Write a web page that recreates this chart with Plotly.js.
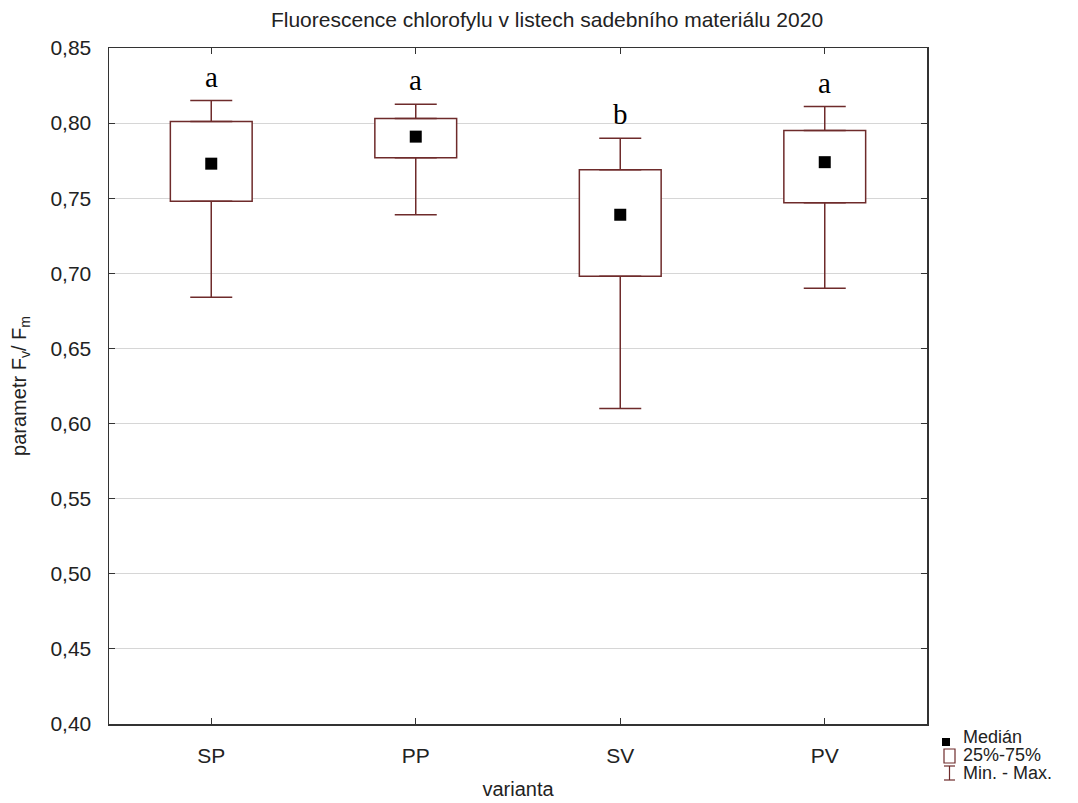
<!DOCTYPE html>
<html>
<head>
<meta charset="utf-8">
<script src="https://cdn.plot.ly/plotly-3.0.1.min.js"></script>
<style>
  html, body { margin: 0; padding: 0; background: #ffffff; }
  #chart { width: 1078px; height: 803px; }
</style>
</head>
<body>
<div id="chart"></div>
<script>
// ---- data ----
const categories   = ['SP', 'PP', 'SV', 'PV'];
const minValues    = [0.684, 0.739, 0.610, 0.690];
const q1Values     = [0.748, 0.777, 0.698, 0.747];
const medianValues = [0.773, 0.791, 0.739, 0.774];
const q3Values     = [0.801, 0.803, 0.769, 0.795];
const maxValues    = [0.815, 0.8125, 0.790, 0.811];
const groupLetters = ['a', 'a', 'b', 'a'];
const legendLabels = ['Medián', '25%-75%', 'Min. - Max.'];

const boxColor = '#6e2b2b';
const axisColor = '#333333';
const sans = 'Liberation Sans, Arial, sans-serif';
const serif = 'Liberation Serif, Times New Roman, serif';

// ---- traces ----
const boxTrace = {
  type: 'bar',
  x: categories,
  base: q1Values,
  y: q3Values.map((q3, i) => q3 - q1Values[i]),
  width: 0.4,
  marker: { color: '#ffffff', line: { color: boxColor, width: 1.5 } },
  hoverinfo: 'skip',
  showlegend: false
};

const upperWhisker = {
  type: 'scatter',
  mode: 'markers',
  x: categories,
  y: q3Values,
  marker: { size: 1, color: 'rgba(0,0,0,0)' },
  error_y: {
    type: 'data', symmetric: false,
    array: maxValues.map((mx, i) => mx - q3Values[i]),
    arrayminus: q3Values.map(() => 0),
    color: boxColor, thickness: 1.5, width: 21
  },
  hoverinfo: 'skip',
  showlegend: false
};

const lowerWhisker = {
  type: 'scatter',
  mode: 'markers',
  x: categories,
  y: q1Values,
  marker: { size: 1, color: 'rgba(0,0,0,0)' },
  error_y: {
    type: 'data', symmetric: false,
    array: q1Values.map(() => 0),
    arrayminus: q1Values.map((q1, i) => q1 - minValues[i]),
    color: boxColor, thickness: 1.5, width: 21
  },
  hoverinfo: 'skip',
  showlegend: false
};

const medianTrace = {
  type: 'scatter',
  mode: 'markers',
  x: categories,
  y: medianValues,
  marker: { symbol: 'square', size: 12, color: '#000000' },
  showlegend: false
};

// ---- layout geometry helpers (pixel -> paper) for the hand-drawn legend ----
const W = 1078, H = 803;
const M = { l: 109, r: 151, t: 48, b: 79 };
const PW = W - M.l - M.r, PH = H - M.t - M.b;
const px = x => (x - M.l) / PW;
const py = y => (H - M.b - y) / PH;

const letterAnnotations = categories.map((c, i) => ({
  x: c, y: maxValues[i], xref: 'x', yref: 'y',
  text: groupLetters[i], showarrow: false,
  yanchor: 'bottom', yshift: 6,
  font: { family: serif, size: 29, color: '#000000' }
}));

const legendY = [737, 755, 773];
const legendAnnotations = legendLabels.map((t, i) => ({
  x: px(962), y: py(legendY[i]), xref: 'paper', yref: 'paper',
  xanchor: 'left', yanchor: 'middle', text: t, showarrow: false,
  borderpad: 0,
  font: { family: sans, size: 18, color: '#222222' }
}));

const legendShapes = [
  { type: 'rect', xref: 'paper', yref: 'paper',
    x0: px(942), x1: px(950), y0: py(738), y1: py(746),
    fillcolor: '#000000', line: { width: 0 } },
  { type: 'rect', xref: 'paper', yref: 'paper',
    x0: px(944), x1: px(955), y0: py(749), y1: py(763),
    fillcolor: '#ffffff', line: { color: boxColor, width: 1.2 } },
  { type: 'line', xref: 'paper', yref: 'paper',
    x0: px(949.5), x1: px(949.5), y0: py(766), y1: py(780),
    line: { color: boxColor, width: 1.2 } },
  { type: 'line', xref: 'paper', yref: 'paper',
    x0: px(944), x1: px(955), y0: py(766), y1: py(766),
    line: { color: boxColor, width: 1.2 } },
  { type: 'line', xref: 'paper', yref: 'paper',
    x0: px(944), x1: px(955), y0: py(780), y1: py(780),
    line: { color: boxColor, width: 1.2 } }
];

const layout = {
  width: W, height: H,
  margin: { l: M.l, r: M.r, t: M.t, b: M.b, pad: 0 },
  paper_bgcolor: '#ffffff',
  plot_bgcolor: '#ffffff',
  separators: ',.',
  showlegend: false,
  title: {
    text: 'Fluorescence chlorofylu v listech sadebního materiálu 2020',
    font: { family: sans, size: 21, color: '#222222' },
    xref: 'container', yref: 'container',
    x: 547 / W, xanchor: 'center',
    y: 1 - 20 / H, yanchor: 'middle'
  },
  xaxis: {
    type: 'category',
    range: [-0.5, 3.5],
    showgrid: false, zeroline: false,
    showline: true, mirror: 'ticks', linecolor: axisColor, linewidth: 1.5,
    ticks: 'inside', ticklen: 6, tickwidth: 1, tickcolor: axisColor,
    tickfont: { family: sans, size: 21, color: '#222222' },
    ticklabelstandoff: 12,
    title: { text: 'varianta', font: { family: sans, size: 20, color: '#222222' }, standoff: 16 },
    automargin: false, fixedrange: true
  },
  yaxis: {
    range: [0.40, 0.85],
    tick0: 0.40, dtick: 0.05, tickformat: '.2f',
    showgrid: true, gridcolor: '#d6d6d6', gridwidth: 1, zeroline: false,
    showline: true, mirror: 'ticks', linecolor: axisColor, linewidth: 1.5,
    ticks: 'inside', ticklen: 6, tickwidth: 1, tickcolor: axisColor,
    tickfont: { family: sans, size: 21, color: '#222222' },
    ticklabelstandoff: 12,
    title: { text: 'parametr F<sub>v</sub>/ F<sub>m</sub>', font: { family: sans, size: 20, color: '#222222' }, standoff: 18 },
    automargin: false, fixedrange: true
  },
  annotations: letterAnnotations.concat(legendAnnotations),
  shapes: legendShapes
};

Plotly.newPlot('chart', [boxTrace, upperWhisker, lowerWhisker, medianTrace], layout,
  { displayModeBar: false, staticPlot: true });
</script>
</body>
</html>
